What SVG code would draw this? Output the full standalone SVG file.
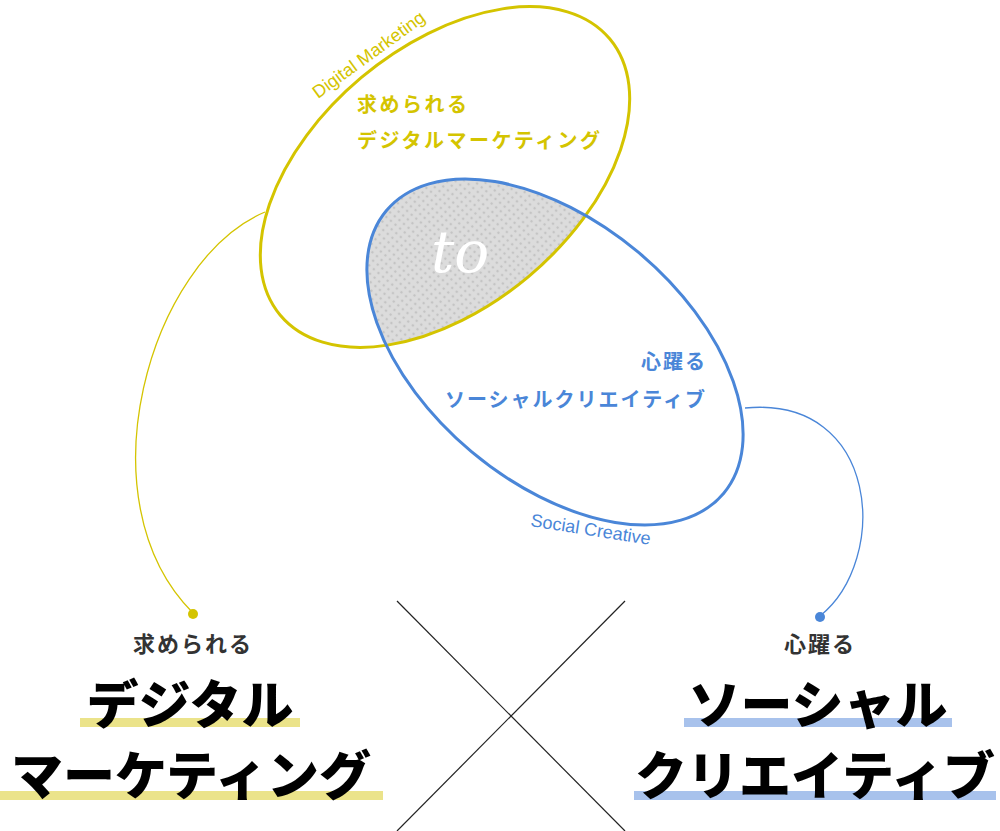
<svg xmlns="http://www.w3.org/2000/svg" width="1000" height="831" viewBox="0 0 1000 831">
<style>
.jp{font-family:"Noto Sans CJK JP","Noto Sans",sans-serif}
.y{fill:#d4c400;font-size:20px;font-weight:700;letter-spacing:2.5px}
.b{fill:#4a86d8;font-size:20px;font-weight:700;letter-spacing:2px}
.sub{fill:#333;font-size:22px;font-weight:700;text-anchor:middle;letter-spacing:2px}
.big{fill:#000;font-size:52px;font-weight:900;text-anchor:middle}
</style>
<defs>
<pattern id="dots" width="6" height="6" patternUnits="userSpaceOnUse"><rect width="6" height="6" fill="#dcdcdc"/><circle cx="3" cy="3" r="1.3" fill="#c4c4c4"/></pattern>
<clipPath id="cy"><ellipse cx="445" cy="177" rx="215" ry="130" transform="rotate(-40 445 177)"/></clipPath>
</defs>
<rect width="1000" height="831" fill="#fff"/>
<g id="overlap"><g clip-path="url(#cy)"><ellipse cx="555" cy="352" rx="220" ry="130" transform="rotate(40 555 352)" fill="url(#dots)"/></g>
<text x="460" y="272" font-family="DejaVu Serif,serif" font-style="italic" font-size="58" fill="#fff" text-anchor="middle">to</text></g>
<g id="connectors" fill="none">
<path d="M265,212 C150,260 80,500 193,613" stroke="#d4c400" stroke-width="1.3"/>
<circle cx="193" cy="614" r="5" fill="#d4c400"/>
<path d="M745,408 C880,395 890,560 820,616" stroke="#4a86d8" stroke-width="1.3"/>
<circle cx="820" cy="617" r="5" fill="#4a86d8"/>
<line x1="397" y1="601" x2="625" y2="831" stroke="#222" stroke-width="1.2"/>
<line x1="625" y1="601" x2="397" y2="831" stroke="#222" stroke-width="1.2"/>
</g>
<g id="digital">
<ellipse cx="445" cy="177" rx="215" ry="130" transform="rotate(-40 445 177)" fill="none" stroke="#d4c400" stroke-width="3"/>
<text x="318" y="99" transform="rotate(-36 318 99)" font-family="Liberation Sans,sans-serif" font-size="18" fill="#d4c400">Digital Marketing</text>
<text class="jp y" x="357" y="112">求められる</text>
<text class="jp y" x="357" y="148">デジタルマーケティング</text>
</g>
<g id="social">
<ellipse cx="555" cy="352" rx="220" ry="130" transform="rotate(40 555 352)" fill="none" stroke="#4a86d8" stroke-width="3"/>
<text x="530" y="526" transform="rotate(9 530 526)" font-family="Liberation Sans,sans-serif" font-size="18" fill="#4a86d8">Social Creative</text>
<text class="jp b" x="707" y="369" text-anchor="end">心躍る</text>
<text class="jp b" x="707" y="407" text-anchor="end">ソーシャルクリエイティブ</text>
</g>
<g id="left-title">
<rect x="80" y="718" width="220" height="9" fill="#ebe38a"/>
<rect x="0" y="791" width="383" height="9" fill="#ebe38a"/>
<text class="jp sub" x="193" y="652">求められる</text>
<text class="jp big" x="190" y="724">デジタル</text>
<text class="jp big" x="191" y="795">マーケティング</text>
</g>
<g id="right-title">
<rect x="684" y="718" width="268" height="9" fill="#a8c2ec"/>
<rect x="634" y="791" width="362" height="9" fill="#a8c2ec"/>
<text class="jp sub" x="820" y="652">心躍る</text>
<text class="jp big" x="818" y="724">ソーシャル</text>
<text class="jp big" x="815" y="795">クリエイティブ</text>
</g>
</svg>
